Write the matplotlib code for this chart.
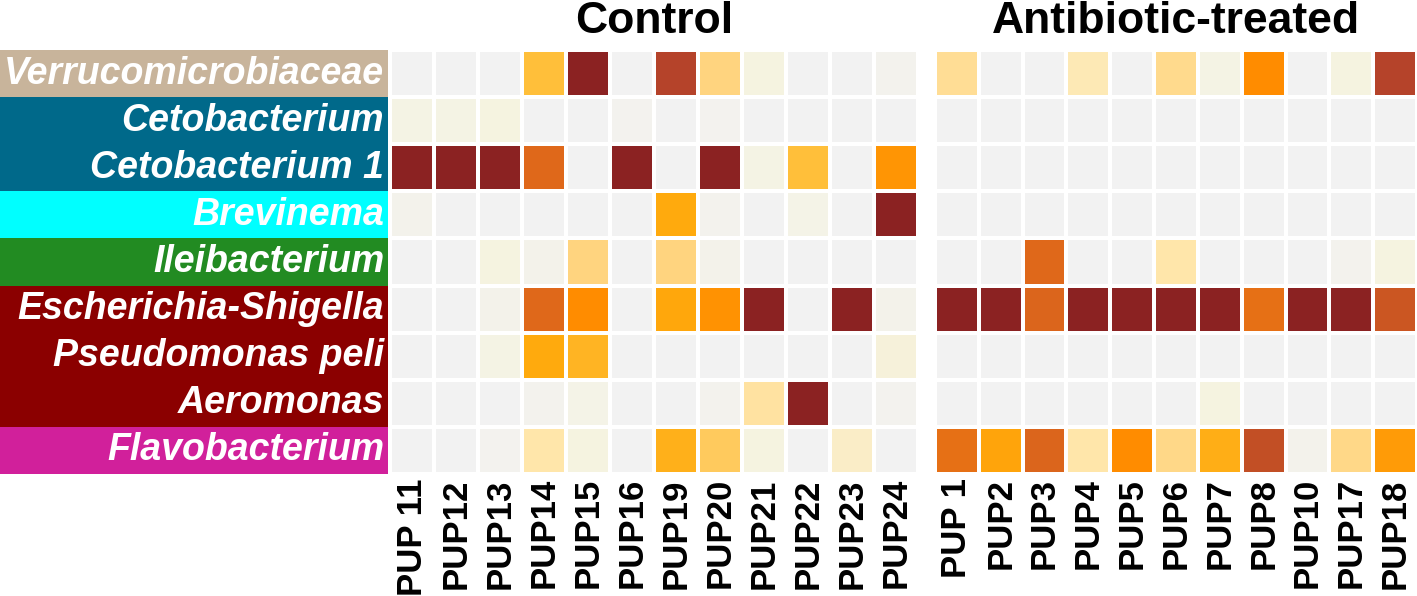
import numpy as np
import matplotlib
matplotlib.use("Agg")
import matplotlib.pyplot as plt
from matplotlib.colors import LinearSegmentedColormap

plt.rcParams['font.family'] = ['Liberation Sans', 'DejaVu Sans']

taxa = ['Verrucomicrobiaceae', 'Cetobacterium', 'Cetobacterium 1', 'Brevinema',
        'Ileibacterium', 'Escherichia-Shigella', 'Pseudomonas peli', 'Aeromonas',
        'Flavobacterium']
taxa_colors = ['#c8b49b', '#00698a', '#00698a', '#00ffff', '#228b22',
               '#8b0000', '#8b0000', '#8b0000', '#d1209b']

control_samples = ['PUP 11', 'PUP12', 'PUP13', 'PUP14', 'PUP15', 'PUP16',
                   'PUP19', 'PUP20', 'PUP21', 'PUP22', 'PUP23', 'PUP24']
abx_samples = ['PUP 1', 'PUP2', 'PUP3', 'PUP4', 'PUP5', 'PUP6', 'PUP7',
               'PUP8', 'PUP10', 'PUP17', 'PUP18']

# relative abundance (scaled 0-1)
control = np.array([
    [0, 0, 0, 0.45, 1.0, 0, 0.85, 0.35, 0.1, 0, 0, 0.03],
    [0.08, 0.08, 0.1, 0, 0, 0.02, 0, 0.02, 0, 0, 0, 0],
    [1, 1, 1, 0.75, 0, 1, 0, 1, 0.08, 0.45, 0, 0.62],
    [0.04, 0, 0, 0, 0, 0, 0.55, 0.03, 0, 0.06, 0, 1],
    [0, 0, 0.1, 0.05, 0.35, 0, 0.35, 0.05, 0, 0, 0, 0],
    [0, 0, 0.05, 0.75, 0.65, 0, 0.56, 0.63, 1, 0, 1, 0.05],
    [0, 0, 0.08, 0.55, 0.5, 0, 0, 0, 0, 0, 0, 0.12],
    [0, 0, 0, 0.03, 0.06, 0, 0, 0.03, 0.27, 1, 0, 0.02],
    [0, 0, 0.02, 0.25, 0.1, 0, 0.52, 0.4, 0.1, 0, 0.17, 0],
])
antibiotic = np.array([
    [0.3, 0, 0, 0.22, 0, 0.32, 0.08, 0.65, 0, 0.1, 0.85],
    [0, 0, 0, 0, 0, 0, 0, 0, 0, 0, 0],
    [0, 0, 0, 0, 0, 0, 0, 0, 0, 0, 0],
    [0, 0, 0, 0, 0, 0, 0, 0, 0, 0, 0],
    [0, 0, 0.75, 0, 0, 0.25, 0, 0, 0, 0.03, 0.1],
    [1, 1, 0.76, 1, 1, 1, 1, 0.73, 1, 1, 0.8],
    [0, 0, 0, 0, 0, 0, 0, 0, 0, 0, 0],
    [0, 0, 0, 0, 0, 0, 0.1, 0, 0, 0, 0],
    [0.73, 0.57, 0.76, 0.25, 0.65, 0.33, 0.53, 0.82, 0.04, 0.33, 0.6],
])

cmap = LinearSegmentedColormap.from_list('abund', [
    (0.0, '#f2f2f2'), (0.1, '#f5f3e0'), (0.25, '#ffe6aa'), (0.35, '#ffd47f'),
    (0.45, '#ffbf3a'), (0.55, '#ffaa0d'), (0.65, '#ff8c00'), (0.75, '#e0691a'),
    (0.85, '#b5432a'), (1.0, '#8b2222')])

W, H = 1417, 596
fig = plt.figure(figsize=(W / 100, H / 100), dpi=100)

top, bot = 50, 474
y0 = 1 - bot / H
hh = (bot - top) / H

# label column
axl = fig.add_axes([0, y0, 388 / W, hh])
for i, (name, c) in enumerate(zip(taxa, taxa_colors)):
    axl.add_patch(plt.Rectangle((0, i), 1, 1, color=c, lw=0))
    axl.text(0.99, i + 0.5, name, ha='right', va='center', color='white',
             fontsize=27, fontweight='bold', fontstyle='italic')
axl.set_xlim(0, 1)
axl.set_ylim(len(taxa), 0)
axl.axis('off')

def panel(rect, data, samples, title):
    ax = fig.add_axes(rect)
    ax.pcolormesh(data, cmap=cmap, vmin=0, vmax=1, edgecolors='white', linewidth=1.5)
    ax.set_ylim(data.shape[0], 0)
    ax.set_xlim(0, data.shape[1])
    ax.set_xticks(np.arange(data.shape[1]) + 0.5)
    ax.set_xticklabels(samples, rotation=90, fontsize=25, fontweight='bold', va='top')
    ax.set_yticks([])
    ax.tick_params(axis='x', length=0, pad=3)
    for s in ax.spines.values():
        s.set_visible(False)
    fig.text(rect[0] + rect[2] / 2, 1 - 33 / H, title, ha='center', va='baseline',
             fontsize=32, fontweight='bold')
    return ax

panel([390 / W, y0, 528 / W, hh], control, control_samples, 'Control')
panel([935 / W, y0, 482 / W, hh], antibiotic, abx_samples, 'Antibiotic-treated')

fig.savefig('out.png', dpi=100)
